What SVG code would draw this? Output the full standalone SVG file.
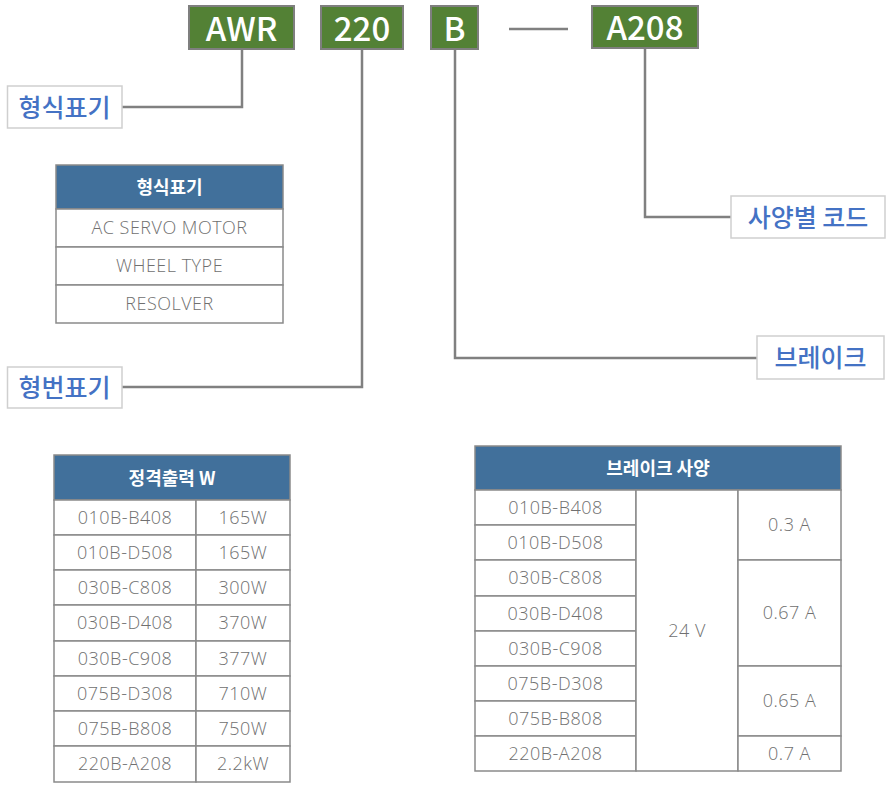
<svg xmlns="http://www.w3.org/2000/svg" width="889" height="786" viewBox="0 0 889 786">
<style>
.code{fill:#538135;stroke:#7f7f7f;stroke-width:2}
.codet{fill:#fff;font-family:"Noto Sans CJK KR","Noto Sans",sans-serif;font-weight:500;font-size:33px;text-anchor:middle;dominant-baseline:central}
.lbl{fill:#fff;stroke:#cfcfcf;stroke-width:1.5}
.lblt{fill:#4472c4;font-family:"Noto Sans CJK KR",sans-serif;font-weight:500;font-size:25px;text-anchor:middle;dominant-baseline:central}
.conn{fill:none;stroke:#808080;stroke-width:2.5}
.hdr{fill:#41709b;stroke:#8a8a8a;stroke-width:1.5}
.hdrt{fill:#fff;font-family:"Noto Sans CJK KR",sans-serif;font-weight:700;font-size:18px;text-anchor:middle;dominant-baseline:central}
.cell{fill:#fff;stroke:#8a8a8a;stroke-width:1.5}
.ct{fill:#707070;font-family:"Open Sans","Noto Sans CJK KR",sans-serif;font-weight:300;font-size:18px;letter-spacing:0.5px;text-anchor:middle;dominant-baseline:central}
</style>

<g id="connectors">
<polyline class="conn" points="242,50 242,107 122,107"/>
<polyline class="conn" points="362,50 362,387 122,387"/>
<polyline class="conn" points="455,50 455,358 757,358"/>
<polyline class="conn" points="645,48 645,217 731,217"/>
<line class="conn" x1="509" y1="29" x2="568" y2="29"/>
</g>

<g id="code-awr"><rect class="code" x="189" y="6" width="105" height="43"/><text class="codet" x="241.5" y="26.5">AWR</text></g>
<g id="code-220"><rect class="code" x="321" y="6" width="82" height="43"/><text class="codet" x="362" y="26.5">220</text></g>
<g id="code-b"><rect class="code" x="431" y="6" width="47" height="43"/><text class="codet" x="454.5" y="26.5">B</text></g>
<g id="code-a208"><rect class="code" x="592" y="6" width="106" height="42"/><text class="codet" x="645" y="26">A208</text></g>

<g id="label-model"><rect class="lbl" x="7.5" y="86" width="114.5" height="42"/><text class="lblt" x="64.5" y="105.5">형식표기</text></g>
<g id="label-number"><rect class="lbl" x="7.5" y="367" width="114.5" height="41"/><text class="lblt" x="64.5" y="386">형번표기</text></g>
<g id="label-spec"><rect class="lbl" x="731" y="196" width="154" height="42"/><text class="lblt" x="808" y="215.5">사양별 코드</text></g>
<g id="label-brake"><rect class="lbl" x="757" y="336" width="127" height="43"/><text class="lblt" x="820.5" y="356">브레이크</text></g>

<g id="table-model">
<rect class="hdr" x="56" y="165" width="227" height="44"/><text class="hdrt" x="169.5" y="186">형식표기</text>
<rect class="cell" x="56" y="209" width="227" height="38"/><text class="ct" x="169.5" y="227">AC SERVO MOTOR</text>
<rect class="cell" x="56" y="247" width="227" height="38"/><text class="ct" x="169.5" y="265">WHEEL TYPE</text>
<rect class="cell" x="56" y="285" width="227" height="38"/><text class="ct" x="169.5" y="303">RESOLVER</text>
</g>

<g id="table-power">
<rect class="hdr" x="54" y="455" width="236" height="45"/><text class="hdrt" x="172" y="476.5">정격출력 W</text>
<g>
<rect class="cell" x="54" y="500" width="142" height="35"/><rect class="cell" x="196" y="500" width="94" height="35"/>
<rect class="cell" x="54" y="535" width="142" height="35"/><rect class="cell" x="196" y="535" width="94" height="35"/>
<rect class="cell" x="54" y="570" width="142" height="35"/><rect class="cell" x="196" y="570" width="94" height="35"/>
<rect class="cell" x="54" y="605" width="142" height="36"/><rect class="cell" x="196" y="605" width="94" height="36"/>
<rect class="cell" x="54" y="641" width="142" height="35"/><rect class="cell" x="196" y="641" width="94" height="35"/>
<rect class="cell" x="54" y="676" width="142" height="35"/><rect class="cell" x="196" y="676" width="94" height="35"/>
<rect class="cell" x="54" y="711" width="142" height="35"/><rect class="cell" x="196" y="711" width="94" height="35"/>
<rect class="cell" x="54" y="746" width="142" height="36"/><rect class="cell" x="196" y="746" width="94" height="36"/>
</g>
<text class="ct" x="125" y="516.5">010B-B408</text><text class="ct" x="243" y="516.5">165W</text>
<text class="ct" x="125" y="551.5">010B-D508</text><text class="ct" x="243" y="551.5">165W</text>
<text class="ct" x="125" y="586.5">030B-C808</text><text class="ct" x="243" y="586.5">300W</text>
<text class="ct" x="125" y="622">030B-D408</text><text class="ct" x="243" y="622">370W</text>
<text class="ct" x="125" y="657.5">030B-C908</text><text class="ct" x="243" y="657.5">377W</text>
<text class="ct" x="125" y="692.5">075B-D308</text><text class="ct" x="243" y="692.5">710W</text>
<text class="ct" x="125" y="727.5">075B-B808</text><text class="ct" x="243" y="727.5">750W</text>
<text class="ct" x="125" y="763">220B-A208</text><text class="ct" x="243" y="763">2.2kW</text>
</g>

<g id="table-brake">
<rect class="hdr" x="475" y="446" width="366" height="44"/><text class="hdrt" x="658" y="467">브레이크 사양</text>
<rect class="cell" x="475" y="490" width="161" height="35"/><text class="ct" x="555.5" y="506.5">010B-B408</text>
<rect class="cell" x="475" y="525" width="161" height="35"/><text class="ct" x="555.5" y="541.5">010B-D508</text>
<rect class="cell" x="475" y="560" width="161" height="36"/><text class="ct" x="555.5" y="577">030B-C808</text>
<rect class="cell" x="475" y="596" width="161" height="35"/><text class="ct" x="555.5" y="612.5">030B-D408</text>
<rect class="cell" x="475" y="631" width="161" height="35"/><text class="ct" x="555.5" y="647.5">030B-C908</text>
<rect class="cell" x="475" y="666" width="161" height="35"/><text class="ct" x="555.5" y="682.5">075B-D308</text>
<rect class="cell" x="475" y="701" width="161" height="35"/><text class="ct" x="555.5" y="717.5">075B-B808</text>
<rect class="cell" x="475" y="736" width="161" height="35"/><text class="ct" x="555.5" y="752.5">220B-A208</text>
<rect class="cell" x="636" y="490" width="102" height="281"/><text class="ct" x="687" y="629.5">24 V</text>
<rect class="cell" x="738" y="490" width="103" height="70"/><text class="ct" x="789.5" y="524">0.3 A</text>
<rect class="cell" x="738" y="560" width="103" height="106"/><text class="ct" x="789.5" y="612">0.67 A</text>
<rect class="cell" x="738" y="666" width="103" height="70"/><text class="ct" x="789.5" y="700">0.65 A</text>
<rect class="cell" x="738" y="736" width="103" height="35"/><text class="ct" x="789.5" y="752.5">0.7 A</text>
</g>
</svg>
